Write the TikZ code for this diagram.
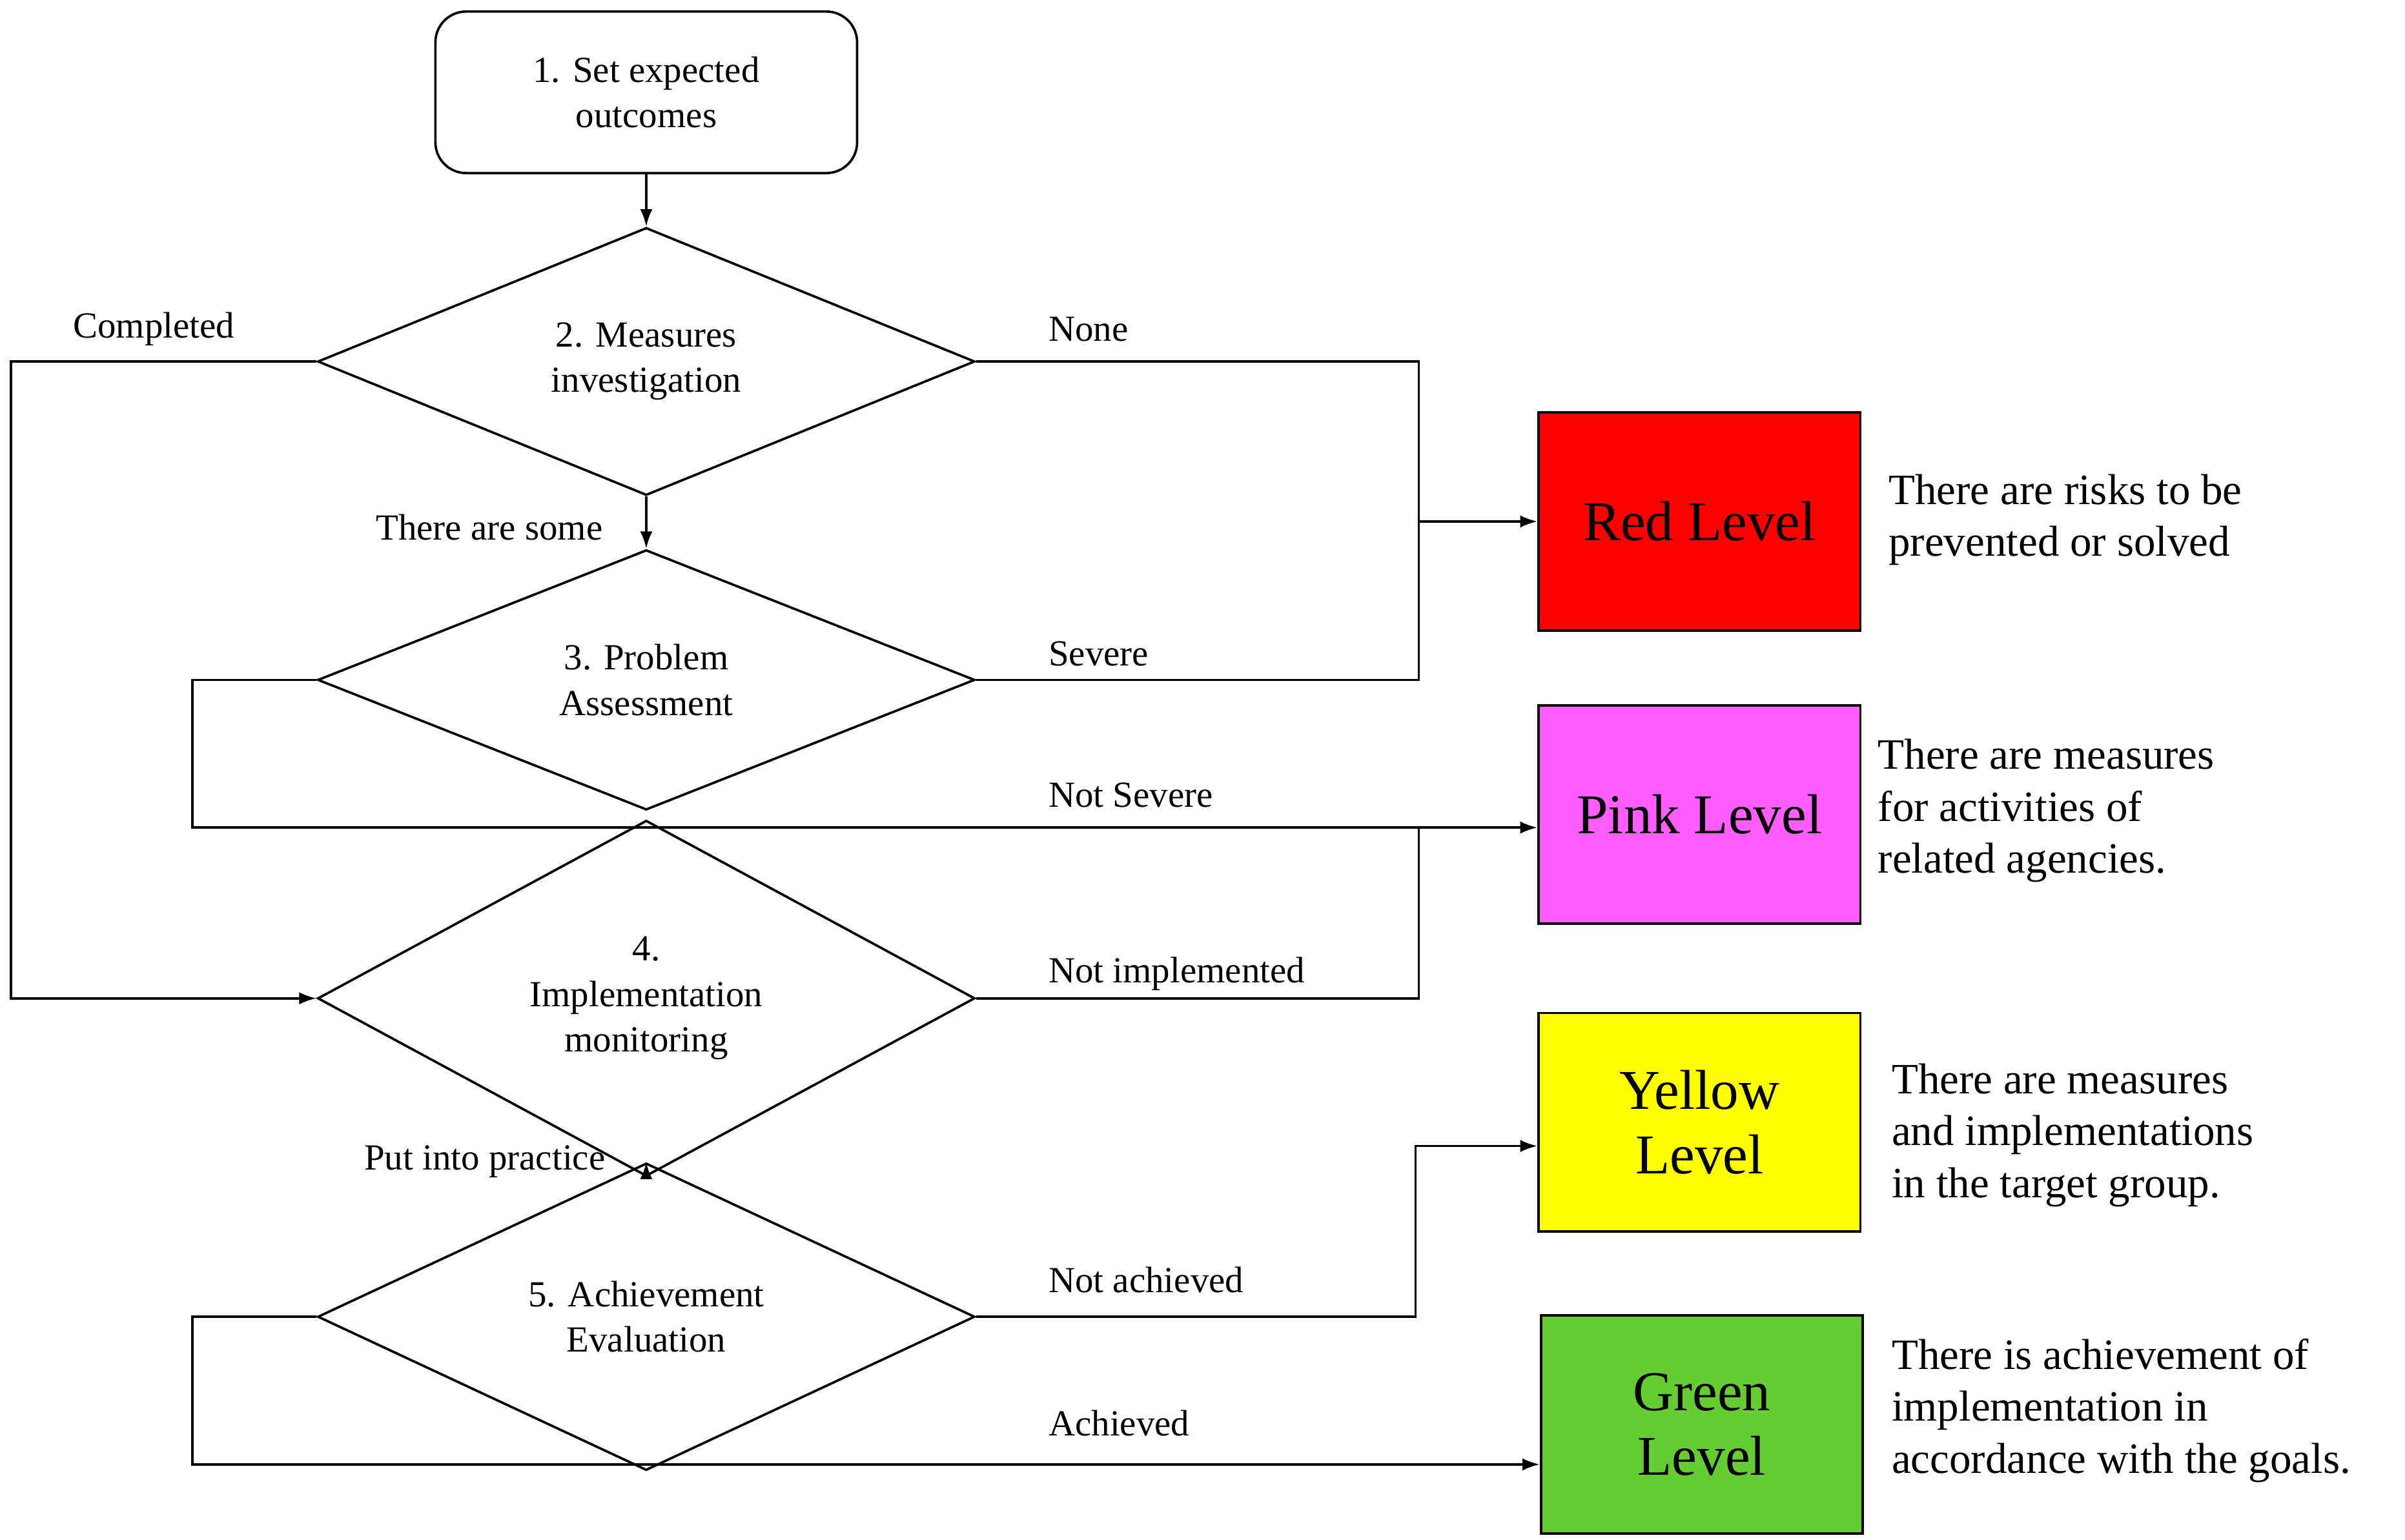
\documentclass[tikz,border=0pt]{standalone}
\usepackage{fontspec}
\setmainfont{Liberation Serif}
\usetikzlibrary{shapes.geometric,arrows.meta}
\begin{document}
\begin{tikzpicture}[x=0.025cm,y=-0.025cm,
  line width=1.1pt,
  every node/.style={font=\fontsize{17}{21}\selectfont},
  dia/.style={draw,shape=diamond,minimum width=10.675cm,minimum height=4.225cm,inner sep=0pt,align=center},
  lvl/.style={draw,minimum width=5.225cm,minimum height=3.55cm,align=center,font=\fontsize{26}{30}\selectfont},
  desc/.style={anchor=west,align=left,font=\fontsize{20}{24}\selectfont},
  arr/.style={-{Latex[length=0.28cm,width=0.2cm]}},
  lab/.style={font=\fontsize{17}{21}\selectfont}]
\useasboundingbox (0,0) rectangle (1563,1001);
\node[draw,rounded corners=0.5cm,minimum width=6.85cm,minimum height=2.625cm,align=center] (s1) at (420,60) {1. Set expected\\outcomes};
\node[dia] (d2) at (420,235) {2. Measures\\investigation};
\node[dia] (d3) at (420,442) {3. Problem\\Assessment};
\node[dia] (d4) at (420,649) {4.\\Implementation\\monitoring};
\node[dia] (d5) at (420,856) {5. Achievement\\Evaluation};
\node[lvl,fill={rgb,255:red,255;green,0;blue,0}] (red) at (1104.5,339) {Red Level};
\node[lvl,fill={rgb,255:red,255;green,94;blue,255}] (pink) at (1104.5,529.5) {Pink Level};
\node[lvl,fill={rgb,255:red,255;green,255;blue,0}] (yel) at (1104.5,729.5) {Yellow\\Level};
\node[lvl,fill={rgb,255:red,102;green,204;blue,51}] (grn) at (1106,926) {Green\\Level};
\node[desc] (t1) at (1222,338) {There are risks to be\\prevented or solved};
\node[desc] (t2) at (1215,527) {There are measures\\for activities of\\related agencies.};
\node[desc] (t3) at (1224,738) {There are measures\\and implementations\\in the target group.};
\node[desc] (t4) at (1224,917) {There is achievement of\\implementation in\\accordance with the goals.};
\coordinate (c1) at (7,235); \coordinate (c2) at (7,649);
\coordinate (n1) at (922,235); \coordinate (n2) at (922,442); \coordinate (n3) at (922,339);
\coordinate (p1) at (125,442); \coordinate (p2) at (125,538);
\coordinate (m1) at (922,649); \coordinate (m2) at (922,538);
\coordinate (y1) at (920,856); \coordinate (y2) at (920,745);
\coordinate (g1) at (125,856); \coordinate (g2) at (125,952);
\draw[arr] (s1.south) -- (d2.north);
\draw[arr] (d2.south) -- (d3.north);
\draw[arr] (d4.south) -- (d5.north);
\draw[arr] (d2.west) -- (c1) -- (c2) -- (d4.west);
\draw (d2.east) -- (n1) -- (n2) -- (d3.east);
\draw[arr] (n3) -- (red.west |- n3);
\draw[arr] (d3.west) -- (p1) -- (p2) -- (pink.west |- p2);
\draw (d4.east) -- (m1) -- (m2);
\draw[arr] (d5.east) -- (y1) -- (y2) -- (yel.west |- y2);
\draw[arr] (d5.west) -- (g1) -- (g2) -- (grn.west |- g2);
\node[lab] (l1) at (100,214) {Completed};
\node[lab,anchor=west] (l2) at (676,214) {None};
\node[lab] (l3) at (318,343) {There are some};
\node[lab,anchor=west] (l4) at (676,425) {Severe};
\node[lab,anchor=west] (l5) at (676,517) {Not Severe};
\node[lab,anchor=west] (l6) at (676,633) {Not implemented};
\node[lab] (l7) at (315,755) {Put into practice};
\node[lab,anchor=west] (l8) at (676,832) {Not achieved};
\node[lab,anchor=west] (l9) at (676,925) {Achieved};
\end{tikzpicture}
\end{document}
